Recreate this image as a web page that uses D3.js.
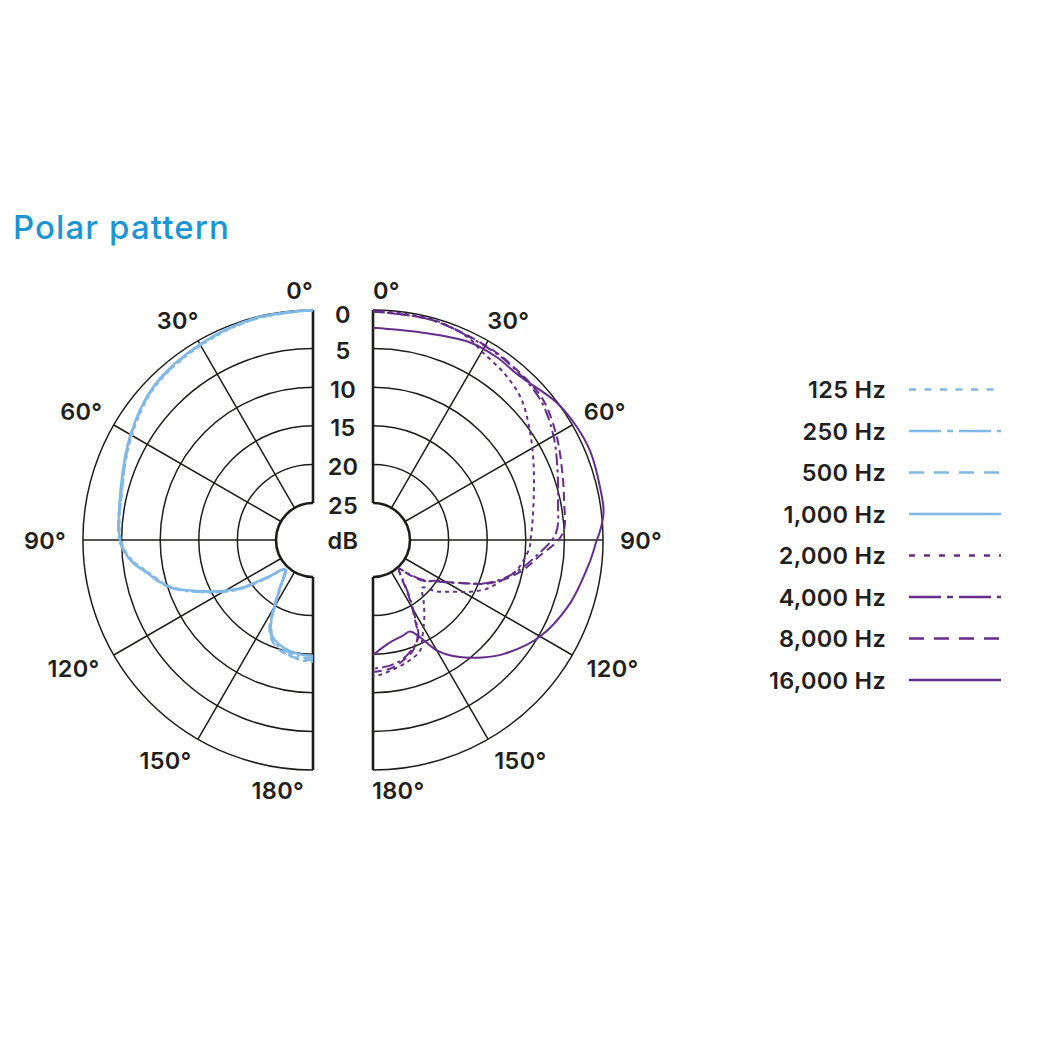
<!DOCTYPE html>
<html>
<head>
<meta charset="utf-8">
<script src="https://cdn.jsdelivr.net/npm/d3@7"></script>
<style>
    body { margin: 0; background: #fff; }
    text { font-family: Inter, 'Noto Sans', sans-serif; font-weight: 500; fill: #231f20; }
    .title { fill: #1996d3; font-size: 33px; letter-spacing: 1.1px; }
    .tick { font-size: 23.5px; letter-spacing: 0.3px; font-weight: 600; }
</style>
</head>
<body>
<svg id="chart" width="1040" height="1040"></svg>
<script>
// Chart data. Each curve point is [angle in degrees, attenuation in dB].
var angleTicks = [ 0, 30, 60, 90, 120, 150, 180 ];
var dbTicks = [ 0, 5, 10, 15, 20, 25 ];
var seriesNames = [ '125 Hz', '250 Hz', '500 Hz', '1,000 Hz', '2,000 Hz', '4,000 Hz', '8,000 Hz', '16,000 Hz' ];

var hz125 = [ [0,0], [15,0.2], [30,0.7], [46,1.3], [60,2.7], [75,4.2], [90,4.9], [96,6.1], [101,8.0], [108,10.3], [115,13.9], [123,18.1], [130,22.4], [135,24.3], [138,24.5], [146,22.2], [150,20.0], [153,17.9], [157,16.3], [164,15.0], [173,14.2], [180,14.0] ];
var hz250 = [ [0,0], [15,0.1], [30,0.6], [46,1.2], [60,2.5], [75,4.1], [90,4.7], [96,5.9], [101,7.8], [108,10.1], [115,13.8], [123,17.9], [130,22.3], [135,24.4], [138,24.6], [146,22.0], [150,19.8], [153,17.6], [157,16.1], [164,15.2], [173,14.6], [180,14.5] ];
var hz500 = [ [0,0], [15,0.2], [30,0.6], [46,1.2], [60,2.6], [75,4.2], [90,4.8], [96,6.0], [101,7.9], [108,10.2], [115,14.0], [123,18.0], [130,22.5], [135,24.4], [138,24.4], [146,21.8], [150,19.6], [153,17.4], [157,15.9], [164,14.8], [173,14.3], [180,14.2] ];
var hz1000 = [ [0,0], [15,0.1], [30,0.5], [46,1.1], [60,2.5], [75,4.0], [90,4.8], [96,5.9], [101,7.8], [108,10.2], [115,14.1], [123,18.2], [130,22.6], [135,24.5], [138,24.3], [146,22.0], [150,19.9], [153,17.8], [157,16.3], [164,15.4], [173,14.9], [180,14.8] ];

var hz2000 = [ [0,0], [15,0.2], [25,0.8], [30,1.6], [38,2.3], [46,3.2], [54,4.8], [63,6.5], [73,8.0], [85,9.1], [90,9.4], [93,9.5], [102,10.8], [107,12.2], [113,13.7], [118,15.5], [123,17.5], [129,19.2], [134,20.9], [140,19.6], [146,17.9], [153,15.7], [157,14.2], [163,13.5], [169,13.0], [177,12.3], [180,12.2] ];
var hz4000 = [ [0,0.2], [15,0.3], [31,0.8], [39,1.0], [50,1.5], [60,2.8], [69,4.2], [78,5.3], [88,6.1], [96,8.7], [102,10.6], [107,12.4], [111,14.2], [118,18.0], [123,19.9], [129,21.6], [134,23.6], [138,24.8], [143,23.4], [148,20.6], [152,18.0], [155,15.9], [160,14.8], [166,13.9], [172,13.4], [180,13.1] ];
var hz8000 = [ [0,0.2], [15,0.3], [31,0.7], [39,0.9], [50,1.2], [60,2.4], [69,3.6], [78,4.5], [88,5.2], [96,8.3], [102,10.2], [107,12.2], [111,14.0], [118,18.1], [123,20.1], [129,21.4], [134,23.4], [138,24.8], [143,23.6], [148,20.9], [152,18.3], [155,16.1], [160,14.6], [166,13.7], [172,13.0], [180,12.7] ];
var hz16000 = [ [0,2.3], [13,2.2], [26,1.3], [34,1.2], [42,1.3], [53,0.1], [61,-0.4], [68,-0.6], [77,-0.4], [83,-0.3], [88,0.4], [90,0.8], [96,1.6], [108,3.0], [120,4.8], [131,7.3], [137,9.0], [144,11.1], [150,13.3], [154,15.7], [158,17.0], [163,16.8], [171,16.3], [180,14.9] ];

var Polar = Polar || {};

Polar.chart = function ( svgParent ) {
    var self = this,
        _svg = svgParent,
        _outerRadius = 230,
        _innerRadius = 37,
        _centerY = 540,
        _leftX = 313,
        _rightX = 373,
        _blue = '#80b9e6',
        _purple = '#652d8c',
        // Dash patterns, one per series, first for the plot and then for the legend.
        _plotDash = [ '4,4', '12,4,3,4', '9,5', null, '4,4', '12,4,3,4', '9,5', null ],
        _legendDash = [ '7,8.5', '32,6,6,6', '15,10', null, '6,9', '32,6,6,6', '15,10', null ],
        // Where the degree labels sit: [angle nudge in degrees, radius].
        _labelPos = { 30: [ 1.6, 258 ], 60: [ 1, 265 ], 90: [ 0, 268 ], 120: [ -1.7, 272 ], 150: [ -3.8, 265 ] },
        _rScale = d3.scaleLinear().domain( [ 0, 25 ] ).range( [ _outerRadius, _innerRadius ] ),
        _toRad = d => d * Math.PI / 180,

        // side = 1 for the right half, -1 for the left one.
        _drawGrid = function ( g, side ) {
            dbTicks.forEach( function ( db ) {
                var p = d3.path();
                p.arc( 0, 0, _rScale( db ), -Math.PI / 2, Math.PI / 2, side < 0 );
                g.append( 'path' )
                    .attr( 'd', p.toString() )
                    .attr( 'fill', 'none' )
                    .attr( 'stroke', '#1d1d1b' )
                    .attr( 'stroke-width', db === 25 ? 2.6 : 1.5 );
            } );

            g.selectAll( 'line.spoke' )
                .data( angleTicks )
                .join( 'line' )
                .attr( 'class', 'spoke' )
                .attr( 'x1', a => side * _rScale( 25 ) * Math.sin( _toRad( a ) ) )
                .attr( 'y1', a => -_rScale( 25 ) * Math.cos( _toRad( a ) ) )
                .attr( 'x2', a => side * _rScale( 0 ) * Math.sin( _toRad( a ) ) )
                .attr( 'y2', a => -_rScale( 0 ) * Math.cos( _toRad( a ) ) )
                .attr( 'stroke', '#1d1d1b' )
                .attr( 'stroke-width', a => ( a === 0 || a === 180 ) ? 2.6 : 1.5 );
        },

        _drawAngleLabels = function ( g, side ) {
            g.selectAll( 'text.angle' )
                .data( angleTicks )
                .join( 'text' )
                .attr( 'class', 'angle tick' )
                .attr( 'text-anchor', a => ( a === 0 || a === 180 ) ? ( side < 0 ? 'end' : 'start' ) : 'middle' )
                .attr( 'x', function ( a ) {
                    if ( a === 0 ) { return 0; }
                    if ( a === 180 ) { return side < 0 ? -9 : -1; }
                    return side * _labelPos[a][1] * Math.sin( _toRad( a + _labelPos[a][0] ) );
                } )
                .attr( 'y', function ( a ) {
                    if ( a === 0 || a === 180 ) {
                        return -250 * Math.cos( _toRad( a ) ) + 8.5;
                    }
                    return -_labelPos[a][1] * Math.cos( _toRad( a + _labelPos[a][0] ) ) + 8.5;
                } )
                .text( a => a + '°' );
        },

        _drawCurves = function ( g, side, list, color, dashes, width ) {
            var line = d3.lineRadial()
                .angle( d => side * _toRad( d[0] ) )
                .radius( d => _rScale( d[1] ) )
                .curve( d3.curveCatmullRom.alpha( 0.5 ) );

            list.forEach( function ( data, i ) {
                g.append( 'path' )
                    .attr( 'd', line( data ) )
                    .attr( 'fill', 'none' )
                    .attr( 'stroke', color )
                    .attr( 'stroke-width', width )
                    .attr( 'stroke-dasharray', dashes[i] );
            } );
        };

    this.draw = function () {
        var left, right, legend, mid;

        _svg.append( 'text' )
            .attr( 'class', 'title' )
            .attr( 'x', 13 )
            .attr( 'y', 239 )
            .text( 'Polar pattern' );

        left = _svg.append( 'g' ).attr( 'transform', 'translate(' + _leftX + ',' + _centerY + ')' );
        right = _svg.append( 'g' ).attr( 'transform', 'translate(' + _rightX + ',' + _centerY + ')' );

        _drawGrid( left, -1 );
        _drawGrid( right, 1 );
        _drawCurves( left, -1, [ hz125, hz250, hz500, hz1000 ], _blue, _plotDash.slice( 0, 4 ), 2.3 );
        _drawCurves( right, 1, [ hz2000, hz4000, hz8000, hz16000 ], _purple, _plotDash.slice( 4 ), 2 );
        _drawAngleLabels( left, -1 );
        _drawAngleLabels( right, 1 );

        // dB scale in the gap between the two halves.
        mid = ( _leftX + _rightX ) / 2;
        _svg.selectAll( 'text.db' )
            .data( dbTicks )
            .join( 'text' )
            .attr( 'class', 'db tick' )
            .attr( 'text-anchor', 'middle' )
            .attr( 'x', mid )
            .attr( 'y', db => _centerY - _rScale( db ) + ( db === 0 ? 12.5 : 10.5 ) )
            .text( db => db );
        _svg.append( 'text' )
            .attr( 'class', 'tick' )
            .attr( 'text-anchor', 'middle' )
            .attr( 'x', mid )
            .attr( 'y', _centerY + 8.5 )
            .text( 'dB' );

        // Legend.
        legend = _svg.append( 'g' )
            .selectAll( 'g' )
            .data( seriesNames )
            .join( 'g' )
            .attr( 'transform', ( d, i ) => 'translate(0,' + ( 389.5 + i * 41.5 ) + ')' );
        legend.append( 'text' )
            .attr( 'class', 'tick' )
            .attr( 'text-anchor', 'end' )
            .attr( 'x', 886 )
            .attr( 'y', 8.5 )
            .text( d => d );
        legend.append( 'line' )
            .attr( 'x1', 909 )
            .attr( 'x2', 1001 )
            .attr( 'stroke', ( d, i ) => i < 4 ? _blue : _purple )
            .attr( 'stroke-width', 2.6 )
            .attr( 'stroke-dasharray', ( d, i ) => _legendDash[i] );
    };
};

new Polar.chart( d3.select( '#chart' ) ).draw();
</script>
</body>
</html>
